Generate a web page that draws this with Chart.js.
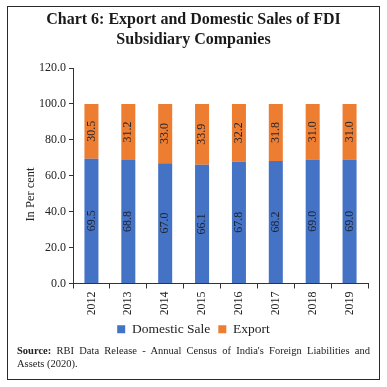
<!DOCTYPE html>
<html>
<head>
<meta charset="utf-8">
<script src="https://cdn.jsdelivr.net/npm/chart.js@4.4.1/dist/chart.umd.min.js"></script>
<style>
  html, body { margin: 0; padding: 0; background: #fff; }
  #wrap { position: relative; width: 387px; height: 387px; overflow: hidden; }
  #frame { position: absolute; left: 7px; top: 6px; width: 371px; height: 372px; border: 1.5px solid #2a2a2a; box-sizing: content-box; }
  #cbox { position: absolute; left: 0; top: 0; width: 387px; height: 346px; }
  #src { position: absolute; left: 17px; top: 344px; width: 353px; font-family: "Liberation Serif", serif; font-size: 10.5px; line-height: 13px; color: #222; text-align: justify; text-align-last: left; }
</style>
</head>
<body>
<div id="wrap">
  <div id="frame"></div>
  <div id="cbox"><canvas id="c"></canvas></div>
  <div id="src"><b>Source:</b> RBI Data Release - Annual Census of India's Foreign Liabilities and Assets (2020).</div>
</div>
<script>
const years = ['2012','2013','2014','2015','2016','2017','2018','2019'];
const domesticSale = [69.5, 68.8, 67.0, 66.1, 67.8, 68.2, 69.0, 69.0];
const exportShare = [30.5, 31.2, 33.0, 33.9, 32.2, 31.8, 31.0, 31.0];
const yTicks = [0, 20, 40, 60, 80, 100, 120];

const serif = "'Liberation Serif', serif";
Chart.defaults.font.family = serif;
Chart.defaults.color = '#222';
Chart.defaults.plugins.legend.labels.font = { family: serif, size: 13.5 };

const barLabels = {
  id: 'barLabels',
  afterDatasetsDraw(chart) {
    const ctx = chart.ctx;
    ctx.save();
    ctx.font = '12px ' + serif;
    ctx.fillStyle = '#1e2330';
    ctx.textAlign = 'center';
    ctx.textBaseline = 'middle';
    chart.data.datasets.forEach((ds, di) => {
      const meta = chart.getDatasetMeta(di);
      meta.data.forEach((bar, i) => {
        const v = ds.data[i];
        const cy = (bar.y + bar.base) / 2;
        ctx.save();
        ctx.translate(bar.x, cy);
        ctx.rotate(-Math.PI / 2);
        ctx.fillText(v.toFixed(1), 0, 0);
        ctx.restore();
      });
    });
    ctx.restore();
  }
};

new Chart(document.getElementById('c'), {
  type: 'bar',
  data: {
    labels: years,
    datasets: [
      { label: 'Domestic Sale', data: domesticSale, backgroundColor: '#4472C4', barPercentage: 0.38, categoryPercentage: 1 },
      { label: 'Export', data: exportShare, backgroundColor: '#ED7D31', barPercentage: 0.38, categoryPercentage: 1 }
    ]
  },
  options: {
    responsive: true,
    maintainAspectRatio: false,
    animation: false,
    devicePixelRatio: 1,
    layout: { padding: { left: 19, right: 19, top: 4, bottom: 0 } },
    plugins: {
      title: {
        display: true,
        text: ['Chart 6: Export and Domestic Sales of FDI', 'Subsidiary Companies'],
        font: { family: serif, size: 16, weight: 'bold', lineHeight: 1.25 },
        color: '#1a1a1a',
        padding: { top: 6, bottom: 18 }
      },
      legend: {
        position: 'bottom',
        labels: {
          font: () => ({ family: serif, size: 13.5 }),
          color: '#222',
          boxWidth: 8,
          boxHeight: 8,
          padding: 8
        }
      },
      tooltip: { enabled: false }
    },
    scales: {
      x: {
        stacked: true,
        offset: true,
        grid: { display: true, drawOnChartArea: false, drawTicks: true, tickLength: 5, offset: true, color: '#333' },
        border: { display: true, color: '#333', width: 1 },
        ticks: { minRotation: 90, maxRotation: 90, font: { family: serif, size: 12 }, color: '#222', padding: 3 },
        afterFit(scale) { scale.height = 31; }
      },
      y: {
        stacked: true,
        min: 0,
        max: 120,
        afterBuildTicks(scale) { scale.ticks = yTicks.map(v => ({ value: v })); },
        grid: { display: true, drawOnChartArea: false, drawTicks: true, tickLength: 4, color: '#333' },
        border: { display: true, color: '#333', width: 1 },
        ticks: { font: { family: serif, size: 12 }, color: '#222', padding: 3, callback: v => Number(v).toFixed(1) },
        title: { display: true, text: 'In Per cent\u2002\u2002\u2002\u2002\u2002\u2002', font: { family: serif, size: 12.5 }, color: '#222', padding: 4 },
        afterFit(scale) { scale.width = 54; }
      }
    }
  },
  plugins: [barLabels]
});
</script>
</body>
</html>
